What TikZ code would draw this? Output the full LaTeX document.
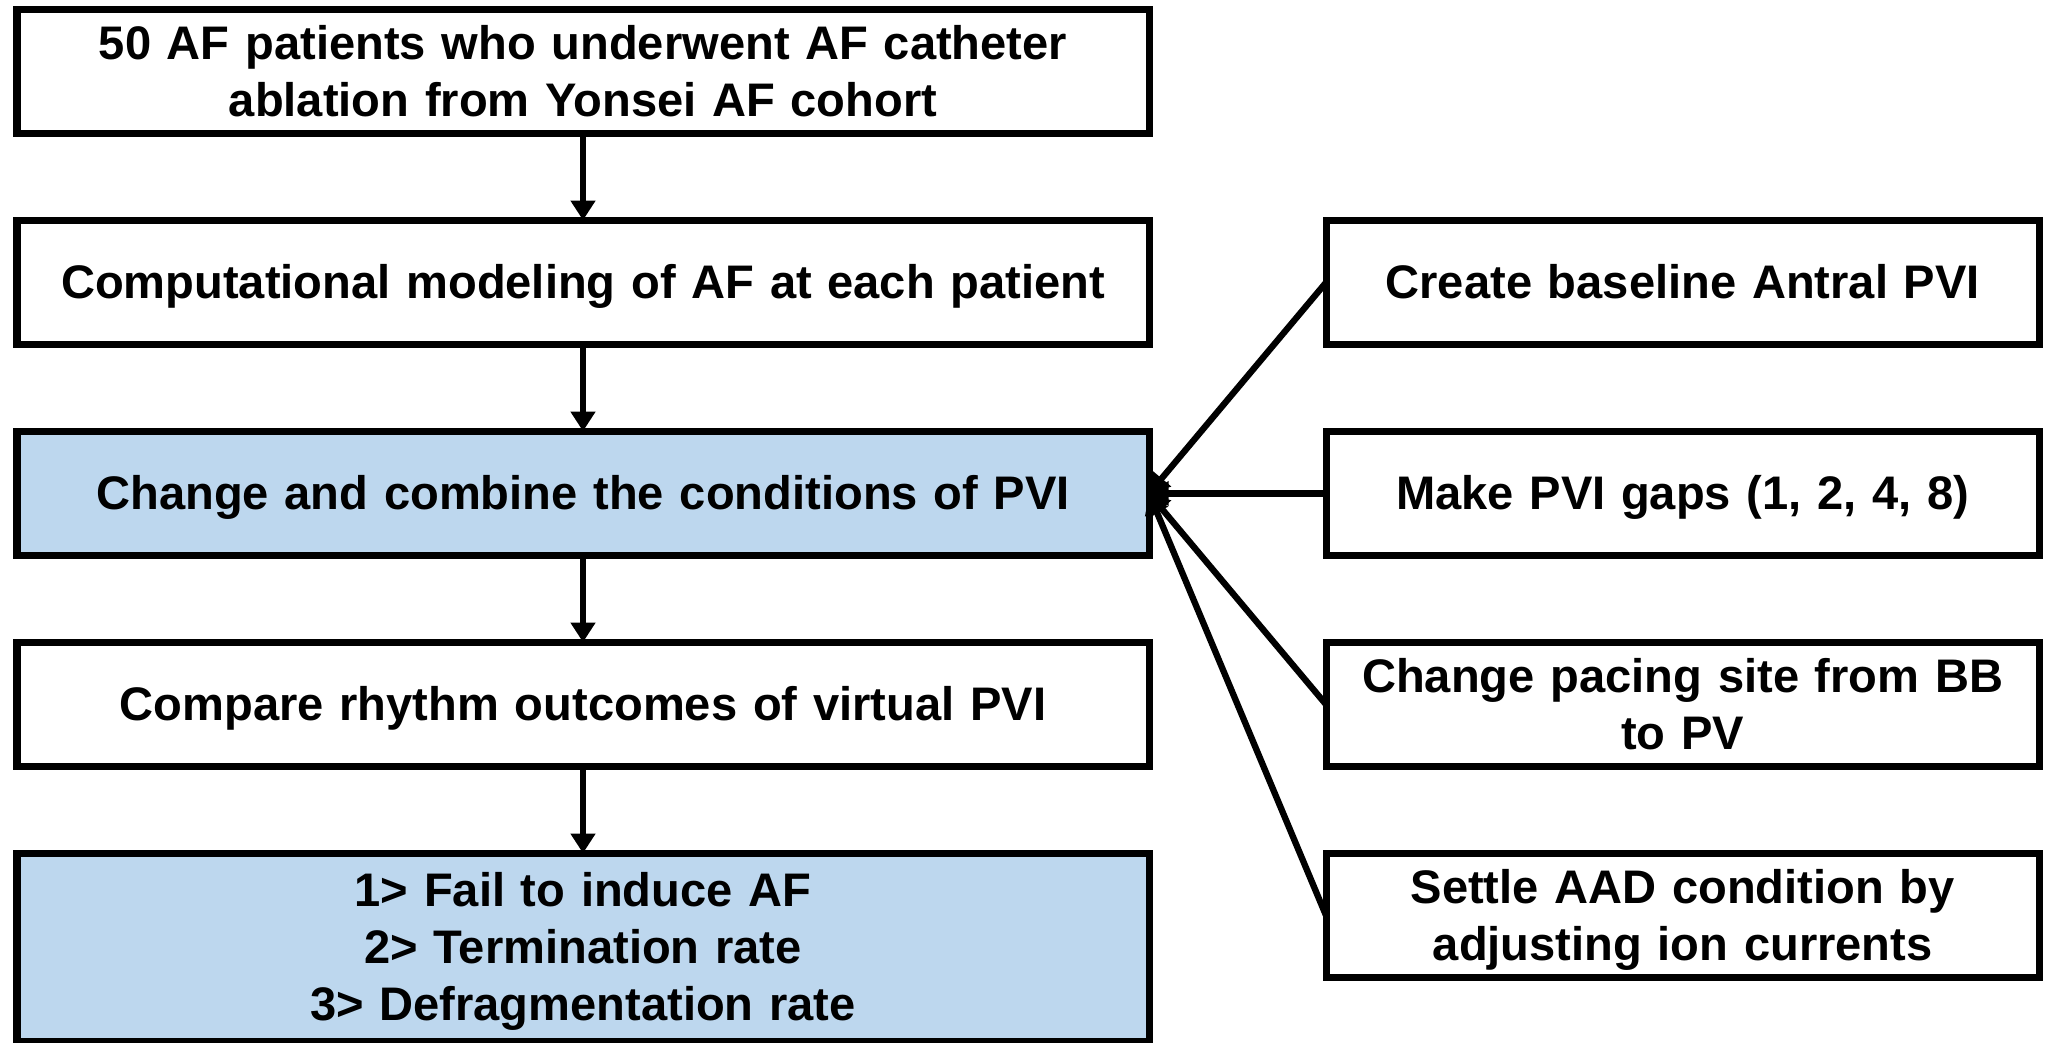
\documentclass[tikz,border=0pt]{standalone}
\usepackage{fontspec}
\setmainfont{Liberation Sans}
\usepackage{tikz}
\usetikzlibrary{positioning}
\usetikzlibrary{arrows.meta}
\definecolor{boxBlue}{RGB}{189,215,238}
\newcommand{\topStrut}{\rule{0pt}{12.2pt}}
\newcommand{\bottomStrut}{\rule[-3pt]{0pt}{3pt}}
\tikzstyle{flowChart} = [node distance = 0.865cm and 1.77cm]
\tikzstyle{stepBox} = [draw=black, fill=white, line width=2pt, outer sep=0pt, inner ysep=0pt, minimum width=11.32cm, minimum height=1.245cm, text width=11cm, align=center, font=\fontsize{13.4}{16.2}\selectfont\bfseries, execute at begin node=\topStrut, execute at end node=\bottomStrut]
\tikzstyle{blueBox} = [stepBox, fill=boxBlue]
\tikzstyle{optionBox} = [stepBox, minimum width=7.125cm, text width=6.9cm]
\tikzstyle{flowArrow} = [line width=1.8pt, -{Triangle[length=5.6pt, width=6.8pt]}]

\begin{document}
\begin{tikzpicture}[flowChart]
              \useasboundingbox (0,0) rectangle (20.45,-10.42);
              \node [stepBox] (cohort) at (5.83,-0.715) {50 AF patients who underwent AF catheter\\ablation from Yonsei AF cohort};
              \node [stepBox, below = of cohort] (modeling) {Computational modeling of AF at each patient};
              \node [blueBox, below = of modeling] (conditions) {Change and combine the conditions of PVI};
              \node [stepBox, below = of conditions] (compare) {Compare rhythm outcomes of virtual PVI};
              \node [blueBox, below = of compare, minimum height=1.88cm] (outcomes) {1> Fail to induce AF\\2> Termination rate\\3> Defragmentation rate};

              \node [optionBox, right = of modeling] (antral) {Create baseline Antral PVI};
              \node [optionBox, below = of antral] (gaps) {Make PVI gaps (1, 2, 4, 8)};
              \node [optionBox, below = of gaps] (pacing) {Change pacing site from BB\\to PV};
              \node [optionBox, below = of pacing] (drug) {Settle AAD condition by\\adjusting ion currents};

              \draw [flowArrow] (cohort) -- (modeling);
              \draw [flowArrow] (modeling) -- (conditions);
              \draw [flowArrow] (conditions) -- (compare);
              \draw [flowArrow] (compare) -- (outcomes);

              \foreach \option in {antral, gaps, pacing, drug} {
                \draw [flowArrow] (\option.west) -- (conditions.east);
              }
            \end{tikzpicture}
\end{document}
